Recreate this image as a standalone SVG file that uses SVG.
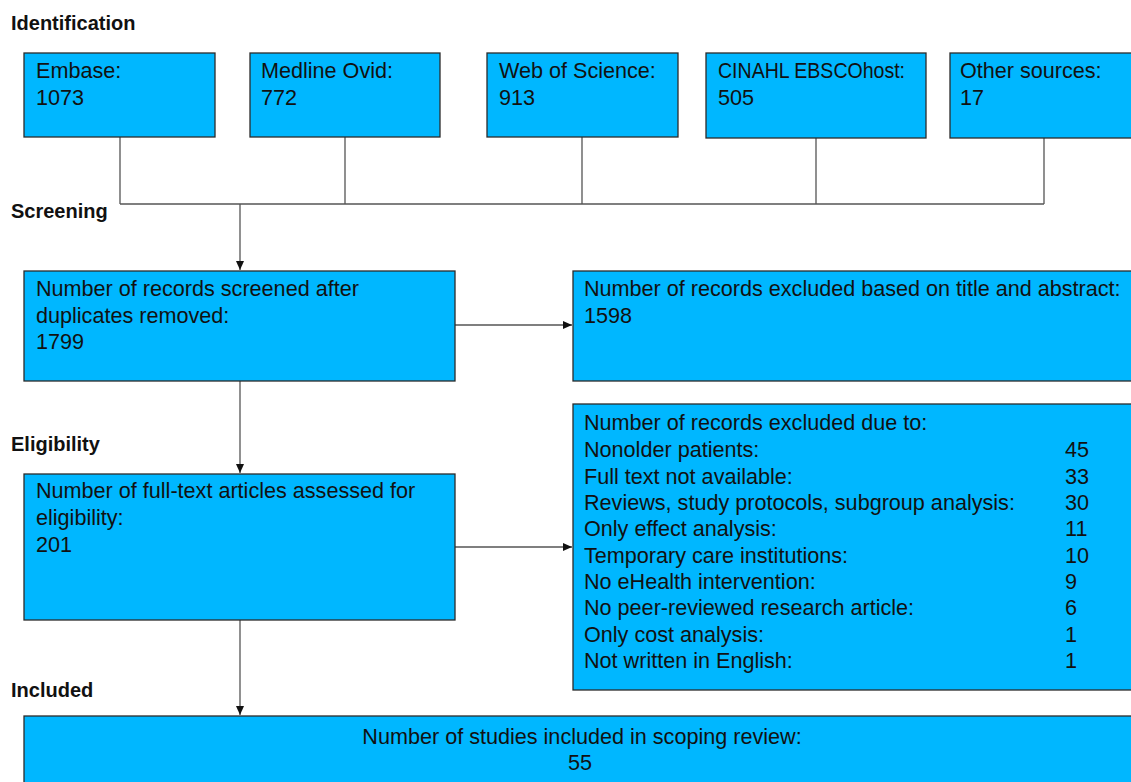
<svg xmlns="http://www.w3.org/2000/svg" width="1131" height="782" viewBox="0 0 1131 782">
<defs>
<style>
.box{fill:#00B7FF;stroke:#2b2b2b;stroke-width:1.3}
.t{font-family:"Liberation Sans",Arial,sans-serif;font-size:21.6px;fill:#111}
.h{font-family:"Liberation Sans",Arial,sans-serif;font-size:20px;font-weight:bold;fill:#111}
.ln{fill:none;stroke:#555;stroke-width:1.3}
</style>
<marker id="ah" markerUnits="userSpaceOnUse" markerWidth="9" markerHeight="8" refX="9" refY="4" orient="auto">
<path d="M0,0 L9,4 L0,8 z" fill="#111"/>
</marker>
</defs>
<rect width="1131" height="782" fill="#fff"/>
<g id="headings">
<text class="h" x="11" y="30">Identification</text>
<text class="h" x="11" y="218">Screening</text>
<text class="h" x="11" y="451">Eligibility</text>
<text class="h" x="11" y="697">Included</text>
</g>
<g id="connectors">
<path class="ln" d="M120,137 V204 M345,137 V204 M582,137 V204 M816,138 V204 M1044,138 V204 M120,204 H1044"/>
<path class="ln" d="M240,204 V270" marker-end="url(#ah)"/>
<path class="ln" d="M240,381 V473" marker-end="url(#ah)"/>
<path class="ln" d="M240,620 V715" marker-end="url(#ah)"/>
<path class="ln" d="M455,325 H572" marker-end="url(#ah)"/>
<path class="ln" d="M455,547 H572" marker-end="url(#ah)"/>
</g>
<g id="embase">
<rect class="box" x="24" y="53" width="191" height="84"/>
<text class="t" x="36" y="78">Embase:</text>
<text class="t" x="36" y="105">1073</text>
</g>
<g id="medline">
<rect class="box" x="250" y="53" width="190" height="84"/>
<text class="t" x="261" y="78">Medline Ovid:</text>
<text class="t" x="261" y="105">772</text>
</g>
<g id="wos">
<rect class="box" x="487" y="53" width="191" height="84"/>
<text class="t" x="499" y="78">Web of Science:</text>
<text class="t" x="499" y="105">913</text>
</g>
<g id="cinahl">
<rect class="box" x="706" y="53" width="220" height="85"/>
<text class="t" x="718" y="78" textLength="187" lengthAdjust="spacingAndGlyphs">CINAHL EBSCOhost:</text>
<text class="t" x="718" y="105">505</text>
</g>
<g id="other">
<rect class="box" x="950" y="53" width="200" height="85"/>
<text class="t" x="960" y="78">Other sources:</text>
<text class="t" x="960" y="105">17</text>
</g>
<g id="screened">
<rect class="box" x="24" y="271" width="431" height="110"/>
<text class="t" x="36" y="296">Number of records screened after</text>
<text class="t" x="36" y="323">duplicates removed:</text>
<text class="t" x="36" y="349">1799</text>
</g>
<g id="excluded1">
<rect class="box" x="573" y="271" width="580" height="110"/>
<text class="t" x="584" y="296">Number of records excluded based on title and abstract:</text>
<text class="t" x="584" y="323">1598</text>
</g>
<g id="fulltext">
<rect class="box" x="24" y="474" width="431" height="146"/>
<text class="t" x="36" y="498">Number of full-text articles assessed for</text>
<text class="t" x="36" y="525">eligibility:</text>
<text class="t" x="36" y="552">201</text>
</g>
<g id="excluded2">
<rect class="box" x="573" y="404" width="580" height="286"/>
<text class="t" x="584" y="430">Number of records excluded due to:</text>
<text class="t" x="584" y="457">Nonolder patients:</text>
<text class="t" x="584" y="484">Full text not available:</text>
<text class="t" x="584" y="510">Reviews, study protocols, subgroup analysis:</text>
<text class="t" x="584" y="536">Only effect analysis:</text>
<text class="t" x="584" y="563">Temporary care institutions:</text>
<text class="t" x="584" y="589">No eHealth intervention:</text>
<text class="t" x="584" y="615">No peer-reviewed research article:</text>
<text class="t" x="584" y="642">Only cost analysis:</text>
<text class="t" x="584" y="668">Not written in English:</text>
<text class="t" x="1065" y="457">45</text>
<text class="t" x="1065" y="484">33</text>
<text class="t" x="1065" y="510">30</text>
<text class="t" x="1065" y="536">11</text>
<text class="t" x="1065" y="563">10</text>
<text class="t" x="1065" y="589">9</text>
<text class="t" x="1065" y="615">6</text>
<text class="t" x="1065" y="642">1</text>
<text class="t" x="1065" y="668">1</text>
</g>
<g id="included">
<rect class="box" x="24" y="716" width="1130" height="80"/>
<text class="t" x="582" y="744" text-anchor="middle">Number of studies included in scoping review:</text>
<text class="t" x="580" y="770" text-anchor="middle">55</text>
</g>
</svg>
